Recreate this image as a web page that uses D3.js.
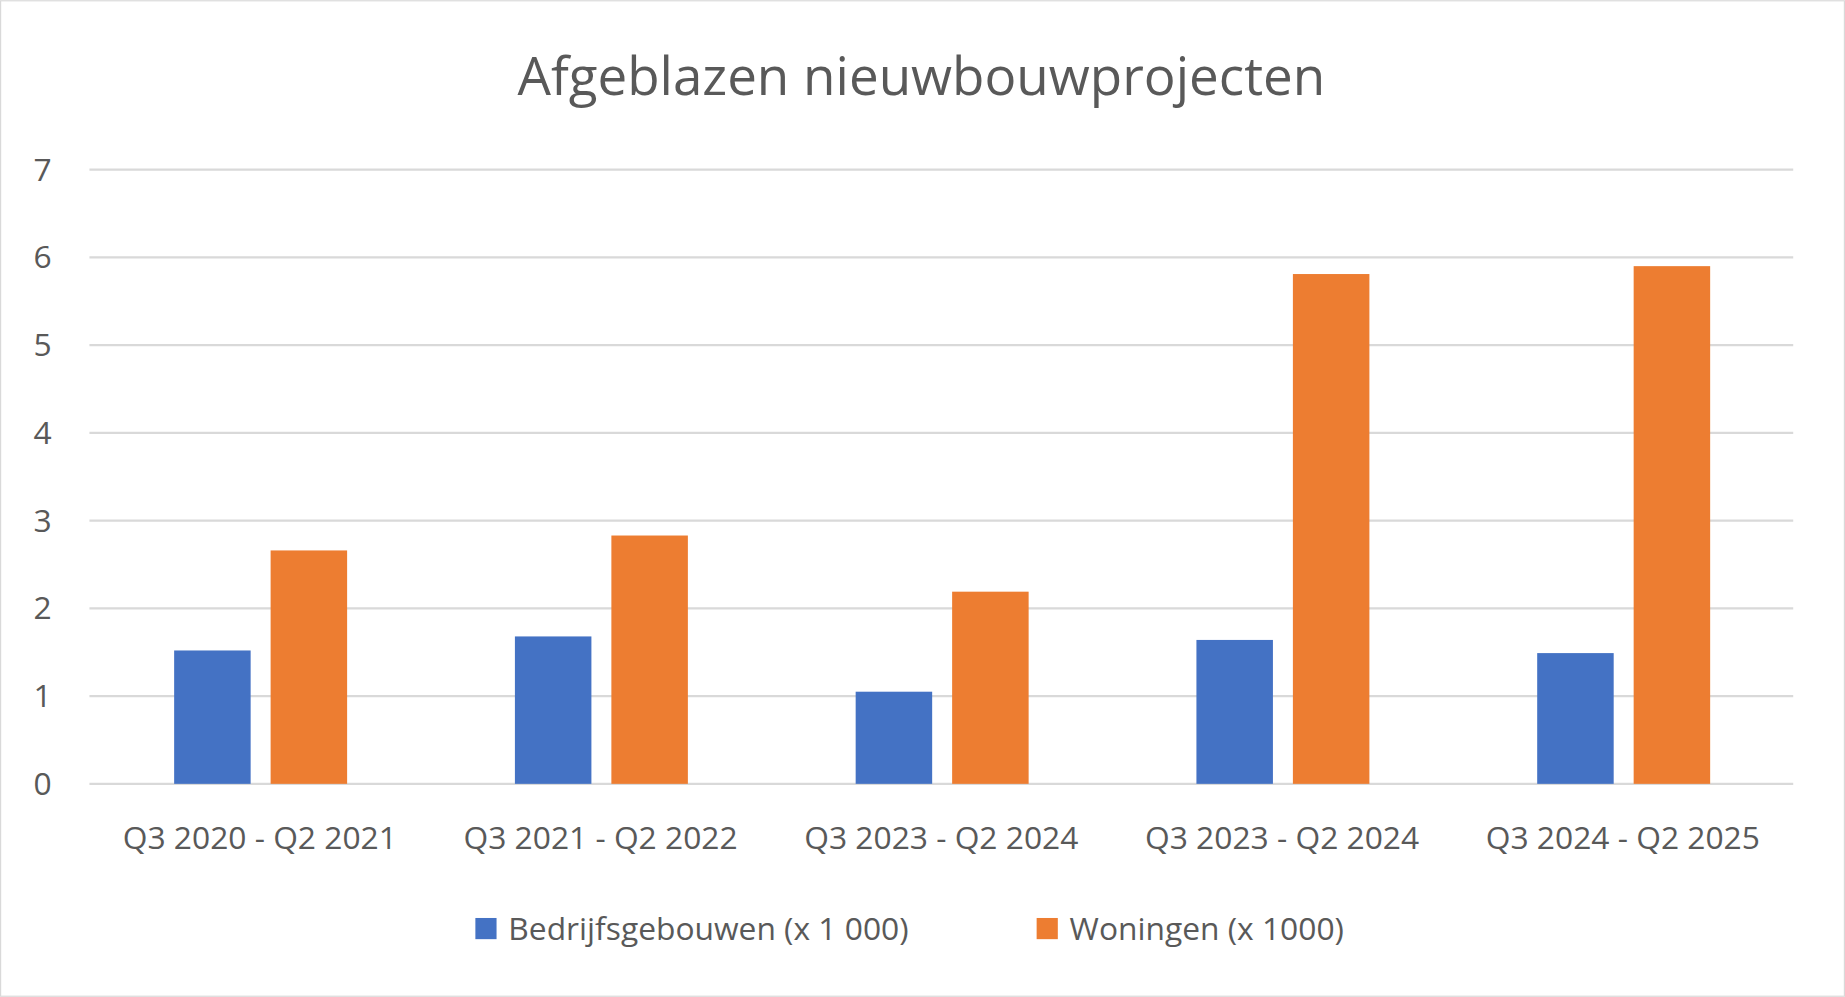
<!DOCTYPE html>
<html><head><meta charset="utf-8">
<script src="https://cdn.jsdelivr.net/npm/d3@7"></script>
<style>body{margin:0;background:#fff}</style></head>
<body><svg id="c" width="1845" height="997" viewBox="0 0 1568 847"></svg>
<script>
const categories=["Q3 2020 - Q2 2021","Q3 2021 - Q2 2022","Q3 2023 - Q2 2024","Q3 2023 - Q2 2024","Q3 2024 - Q2 2025"];
const seriesNames=["Bedrijfsgebouwen (x 1 000)","Woningen (x 1000)"];
const bedrijf=[1.52,1.68,1.05,1.64,1.49];
const woningen=[2.66,2.83,2.19,5.81,5.90];
const yTicks=[0,1,2,3,4,5,6,7];
const colors=["#4472C4","#ED7D31"];
const font="'Open Sans', sans-serif";
const svg=d3.select("#c");
svg.append("rect").attr("x",0.5).attr("y",0.5).attr("width",1567).attr("height",846).attr("fill","#fff").attr("stroke","#d9d9d9");
const L=76,R=1524,T=144,B=666;
const x0=d3.scaleBand().domain(d3.range(categories.length)).range([L,R]);
const x1=d3.scaleBand().domain([0,1]).range([72,219]).paddingInner(0.207);
const y=d3.scaleLinear().domain([0,7]).range([B,T]);
svg.append("g").selectAll("line").data(yTicks).join("line")
 .attr("x1",L).attr("x2",R).attr("y1",d=>y(d)).attr("y2",d=>y(d)).attr("stroke","#d9d9d9").attr("stroke-width",2);
svg.append("g").selectAll("text").data(yTicks).join("text")
 .attr("x",44).attr("y",d=>y(d)).attr("dy","0.35em").attr("text-anchor","end")
 .attr("font-family",font).attr("font-size",27).attr("fill","#595959").text(d=>d);
const data=[bedrijf,woningen];
data.forEach((s,si)=>{
 svg.append("g").selectAll("rect").data(s).join("rect")
  .attr("x",(d,i)=>x0(i)+x1(si)).attr("width",x1.bandwidth())
  .attr("y",d=>y(d)).attr("height",d=>B-y(d)).attr("fill",colors[si]);
});
svg.append("g").selectAll("text").data(categories).join("text")
 .attr("x",(d,i)=>x0(i)+x0.bandwidth()/2).attr("y",712).attr("dy","0.35em").attr("text-anchor","middle")
 .attr("font-family",font).attr("font-size",27).attr("fill","#595959").text(d=>d);
svg.append("text").attr("x",783).attr("y",65).attr("dy","0.35em").attr("text-anchor","middle")
 .attr("font-family",font).attr("font-size",45).attr("fill","#595959").text("Afgeblazen nieuwbouwprojecten");
const lx=[404,881];
seriesNames.forEach((n,i)=>{
 svg.append("rect").attr("x",lx[i]).attr("y",780).attr("width",18).attr("height",18).attr("fill",colors[i]);
 svg.append("text").attr("x",lx[i]+28).attr("y",789).attr("dy","0.35em")
  .attr("font-family",font).attr("font-size",27).attr("fill","#595959").text(n);
});
</script></body></html>
